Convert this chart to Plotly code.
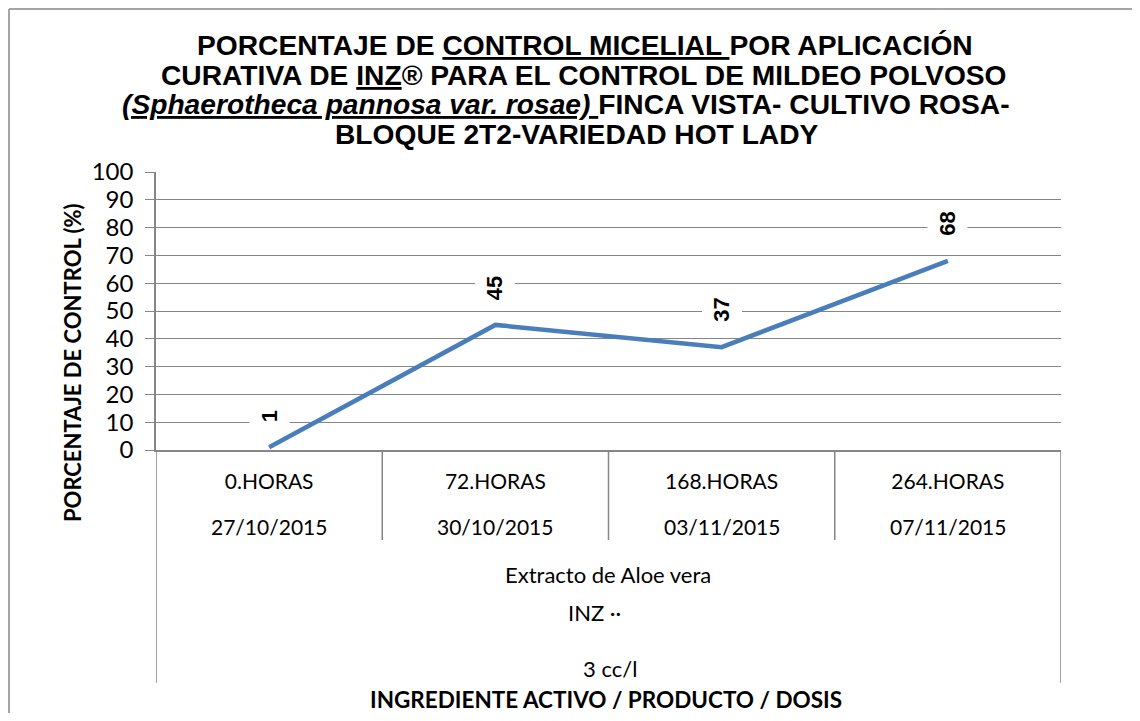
import plotly.graph_objects as go

# ---- data ----
hours = ["0.HORAS", "72.HORAS", "168.HORAS", "264.HORAS"]
dates = ["27/10/2015", "30/10/2015", "03/11/2015", "07/11/2015"]
control_pct = [1, 45, 37, 68]
group_labels = ["Extracto de Aloe vera", "INZ \u00b7\u00b7", "3 cc/l"]
title_lines = [
    "PORCENTAJE DE <u>CONTROL MICELIAL </u>POR APLICACIÓN",
    "CURATIVA DE <u>INZ</u>® PARA EL CONTROL DE MILDEO POLVOSO",
    "<i><u>(Sphaerotheca pannosa var. rosae) </u></i>FINCA VISTA- CULTIVO ROSA-",
    "BLOQUE 2T2-VARIEDAD HOT LADY",
]
y_title = "PORCENTAJE DE CONTROL (%)"
x_title = "INGREDIENTE ACTIVO / PRODUCTO / DOSIS"
y_ticks = list(range(0, 101, 10))

# ---- layout geometry (pixels, in screenshot coords) ----
OFF = 8  # page body margin offset
W, H = 1140 - 2 * OFF, 721 - 2 * OFF  # fit the page without scrollbars
L, R, T, B = 156 - OFF, 1061 - OFF, 172 - OFF, 450 - OFF
pw, ph = R - L, B - T

def py(y):  # screenshot pixel y -> paper y
    return (B - (y - OFF)) / ph

def px(x):  # screenshot pixel x -> paper x
    return ((x - OFF) - L) / pw

GRID = "#868686"
LINE = "#4A7EBB"
xs = list(range(len(hours)))

fig = go.Figure()
fig.add_trace(go.Scatter(
    x=xs, y=control_pct, mode="lines",
    line=dict(color=LINE, width=4.5), showlegend=False, hoverinfo="skip",
))

annotations = []
# data labels
for x, v in zip(xs, control_pct):
    annotations.append(dict(
        x=x, y=v, xref="x", yref="y", text=f"<b>{v}</b>", showarrow=False,
        textangle=-90, yanchor="bottom", xanchor="center", yshift=17,
        bgcolor="white", borderpad=7,
        font=dict(family="Liberation Sans", size=22, color="black"),
    ))
# dates (second row of category labels)
for x, d in zip(xs, dates):
    annotations.append(dict(
        x=x, y=py(526), xref="x", yref="paper", text=d, showarrow=False,
        yanchor="middle", font=dict(family="Lato", size=21, color="black"),
    ))
# group labels
for lbl, xx, yy in zip(group_labels, [608, 594, 610], [574, 612, 668]):
    annotations.append(dict(
        x=px(xx), y=py(yy), xref="paper", yref="paper", text=lbl, showarrow=False,
        yanchor="middle", font=dict(family="Lato", size=22, color="black"),
    ))
# axis titles
annotations.append(dict(
    x=px(606), y=py(699), xref="paper", yref="paper", text=f"<b>{x_title}</b>",
    showarrow=False, yanchor="middle",
    font=dict(family="Lato", size=22.5, color="black"),
))
annotations.append(dict(
    x=px(72), y=py(363), xref="paper", yref="paper", text=f"<b>{y_title}</b>",
    showarrow=False, yanchor="middle", xanchor="center", textangle=-90,
    font=dict(family="Lato", size=22, color="black"),
))
# title lines
for line, xx, yy in zip(title_lines, [585, 584, 566, 577], [45, 75, 104, 134]):
    annotations.append(dict(
        x=px(xx), y=py(yy), xref="paper", yref="paper", text=f"<b>{line}</b>",
        showarrow=False, yanchor="middle", xanchor="center",
        font=dict(family="Liberation Sans", size=28.2, color="black"),
    ))

shapes = []
# category dividers
for i in range(len(hours) + 1):
    edge = i == 0 or i == len(hours)
    shapes.append(dict(
        type="line", xref="x", yref="paper", x0=i - 0.5, x1=i - 0.5,
        y0=0, y1=py(683) if edge else py(540),
        line=dict(color=GRID, width=1.5),
    ))
# chart border: only top and left edges are visible in the reference
shapes.append(dict(
    type="line", xref="paper", yref="paper",
    x0=px(9), x1=px(1200), y0=py(9), y1=py(9),
    line=dict(color="#878787", width=1.5),
))
shapes.append(dict(
    type="line", xref="paper", yref="paper",
    x0=px(9), x1=px(9), y0=py(9), y1=py(800),
    line=dict(color="#878787", width=1.5),
))

fig.update_layout(
    width=W, height=H,
    margin=dict(l=L, r=W - R, t=T, b=H - B),
    paper_bgcolor="white", plot_bgcolor="white",
    annotations=annotations, shapes=shapes,
    xaxis=dict(
        range=[-0.5, len(hours) - 0.5], tickvals=xs, ticktext=hours,
        showgrid=False, zeroline=False, showline=True, linecolor=GRID,
        linewidth=1.5, ticks="", ticklabelstandoff=12,
        tickfont=dict(family="Lato", size=21, color="black"),
    ),
    yaxis=dict(
        range=[0, 100], tickvals=y_ticks, showgrid=True, gridcolor=GRID,
        gridwidth=1.2, zeroline=False, showline=True, linecolor=GRID,
        linewidth=1.5, ticks="outside", ticklen=9, tickcolor=GRID,
        ticklabelstandoff=7,
        tickfont=dict(family="Lato", size=24, color="black"),
    ),
)
fig.write_html("out.html")
